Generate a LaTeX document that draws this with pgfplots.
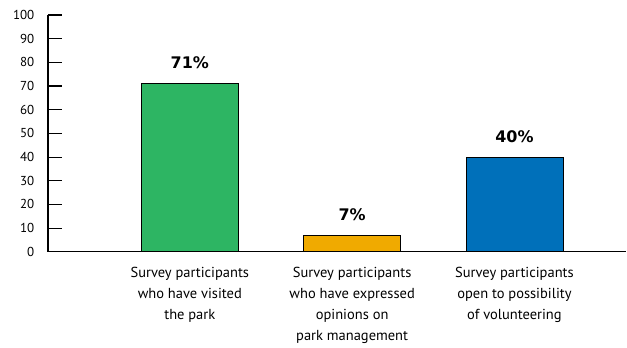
\documentclass[border=0pt]{standalone}
\usepackage{pgfplots}
\pgfplotsset{compat=1.18}
\usepackage{fontspec}
\setmainfont{PT Sans}
\newfontfamily\valfont{DejaVu Sans}
\definecolor{cgreen}{HTML}{2DB563}
\definecolor{cyellow}{HTML}{F0AA00}
\definecolor{cblue}{HTML}{0070BA}
\begin{document}
\begin{tikzpicture}
\begin{axis}[
  /pgf/number format/assume math mode=true,
  scale only axis,
  width=579pt, height=237pt,
  xmin=-0.874, xmax=2.69,
  ymin=0, ymax=100,
  ytick={0,10,...,100},
  axis x line=bottom, axis y line=left,
  axis line style={-, line width=1.1pt, black},
  xtick={0,1,2},
  major x tick style={draw=none},
  major y tick style={draw=none},
  xticklabels={{Survey participants\\who have visited\\the park},{Survey participants\\who have expressed\\opinions on\\park management},{Survey participants\\open to possibility\\of volunteering}},
  xticklabel style={align=center, font=\fontsize{14.5}{21}\selectfont, yshift=-8pt},
  yticklabel style={font=\fontsize{13}{15}\selectfont, anchor=east, xshift=-8pt},
  ybar, bar width=97pt, bar shift=0pt,
  nodes near coords={\pgfmathprintnumber{\pgfplotspointmeta}\%},
  nodes near coords style={font=\valfont\bfseries\fontsize{16}{18}\selectfont, yshift=11pt},
  clip=false,
]
\addplot[draw=black, line width=0.6pt, fill=cgreen] coordinates {(0,71)};
\addplot[draw=black, line width=0.6pt, fill=cyellow] coordinates {(1,7)};
\addplot[draw=black, line width=0.6pt, fill=cblue] coordinates {(2,40)};
\draw[line width=1.1pt] (axis cs:-0.874,10) -- (axis cs:-0.788,10);
\draw[line width=1.1pt] (axis cs:-0.874,20) -- (axis cs:-0.788,20);
\draw[line width=1.1pt] (axis cs:-0.874,30) -- (axis cs:-0.788,30);
\draw[line width=1.1pt] (axis cs:-0.874,40) -- (axis cs:-0.788,40);
\draw[line width=1.1pt] (axis cs:-0.874,50) -- (axis cs:-0.788,50);
\draw[line width=1.1pt] (axis cs:-0.874,60) -- (axis cs:-0.788,60);
\draw[line width=1.1pt] (axis cs:-0.874,70) -- (axis cs:-0.788,70);
\draw[line width=1.1pt] (axis cs:-0.874,80) -- (axis cs:-0.788,80);
\draw[line width=1.1pt] (axis cs:-0.874,90) -- (axis cs:-0.788,90);
\draw[line width=1.1pt] (axis cs:-0.874,100) -- (axis cs:-0.788,100);
\path (rel axis cs:0,1) ++(-48pt,15pt) coordinate (tl);
\end{axis}
\end{tikzpicture}
\end{document}
